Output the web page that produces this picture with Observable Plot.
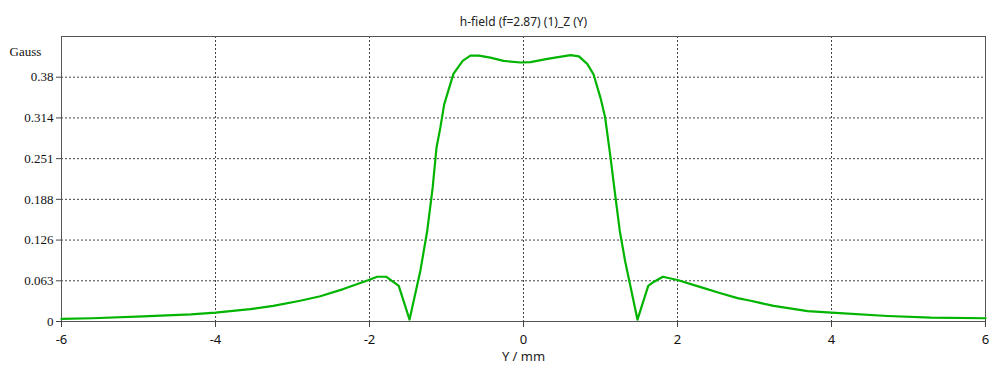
<!DOCTYPE html>
<html>
<head>
<meta charset="utf-8">
<script src="https://cdn.jsdelivr.net/npm/d3@7"></script>
<script src="https://cdn.jsdelivr.net/npm/@observablehq/plot@0.6"></script>
<style>
  html, body { margin: 0; padding: 0; background: #fff; }
  #chart svg { display: block; }
</style>
</head>
<body>
<div id="chart"></div>
<script>
const titleText = "h-field (f=2.87) (1)_Z (Y)";
const yUnitLabel = "Gauss";
const xAxisLabel = "Y / mm";

// Curve samples: position (mm) and field (Gauss)
const posY = [-6, -5.6, -4.94, -4.32, -4, -3.55, -3.25, -2.9, -2.64, -2.34, -2.01, -1.9, -1.78, -1.62, -1.48,
  -1.34, -1.25, -1.18, -1.13, -1.08, -1.03, -0.91, -0.79, -0.69, -0.58, -0.43, -0.26, -0.04,
  0.09, 0.31, 0.61, 0.72, 0.83, 0.91, 1.0, 1.06, 1.13, 1.19, 1.25, 1.32, 1.48,
  1.62, 1.69, 1.81, 2.0, 2.3, 2.56, 2.78, 2.95, 3.25, 3.69, 4.0, 4.73, 5.29, 6];
const hField = [0.004, 0.005, 0.008, 0.011, 0.0136, 0.019, 0.024, 0.032, 0.039, 0.05, 0.064, 0.069, 0.069, 0.055, 0.003,
  0.078, 0.14, 0.206, 0.268, 0.299, 0.335, 0.382, 0.402, 0.41, 0.41, 0.407, 0.402, 0.3995,
  0.4, 0.405, 0.411, 0.409, 0.397, 0.381, 0.345, 0.315, 0.253, 0.196, 0.14, 0.093, 0.003,
  0.055, 0.061, 0.069, 0.064, 0.053, 0.0435, 0.036, 0.032, 0.024, 0.016, 0.0136, 0.0085, 0.006, 0.005];

const xTicks = [-6, -4, -2, 0, 2, 4, 6];
const xTickLabels = ["-6", "-4", "-2", "0", "2", "4", "6"];
const xGrid = [-4, -2, 0, 2, 4];
const yTicks = [0, 0.0628, 0.1256, 0.1884, 0.2512, 0.314, 0.3768];
const yTickLabels = ["0", "0.063", "0.126", "0.188", "0.251", "0.314", "0.38"];
const yMax = 0.4396;

const data = posY.map((x, i) => ({x, y: hField[i]}));
const yLabelFor = v => yTickLabels[yTicks.indexOf(v)];
const xLabelFor = v => xTickLabels[xTicks.indexOf(v)];

const chart = Plot.plot({
  width: 992,
  height: 371,
  marginLeft: 61,
  marginRight: 7,
  marginTop: 36,
  marginBottom: 50,
  style: {background: "#fff", fontFamily: "'Noto Sans', sans-serif", fontSize: "12px", color: "#222"},
  x: {domain: [-6, 6]},
  y: {domain: [0, yMax]},
  marks: [
    Plot.gridX(xGrid, {stroke: "#444", strokeOpacity: 1, strokeDasharray: "2,2"}),
    Plot.gridY(yTicks.slice(1), {stroke: "#444", strokeOpacity: 1, strokeDasharray: "2,2"}),
    Plot.frame({stroke: "#555"}),
    Plot.axisX(xTicks, {tickSize: 6, tickPadding: 7, label: null, tickFormat: xLabelFor, fontSize: 13, stroke: "#444", fill: "#111"}),
    Plot.axisY(yTicks, {tickSize: 5, tickPadding: 3, label: null, tickFormat: yLabelFor,
      fontFamily: "'Liberation Serif', serif", fontSize: 13, fill: "#111", stroke: "#444"}),
    Plot.line(data, {x: "x", y: "y", stroke: "#00b400", strokeWidth: 2.2, curve: "linear"}),
    Plot.text([titleText], {frameAnchor: "top", dy: -19, fontSize: 12, fill: "#222"}),
    Plot.text([yUnitLabel], {frameAnchor: "top-left", dx: -52, dy: 10, textAnchor: "start",
      fontFamily: "'Liberation Serif', serif", fontSize: 13, fill: "#111"}),
    Plot.text([xAxisLabel], {frameAnchor: "bottom", dy: 39, fontSize: 13, fill: "#222"})
  ]
});
document.getElementById("chart").append(chart);
</script>
</body>
</html>
